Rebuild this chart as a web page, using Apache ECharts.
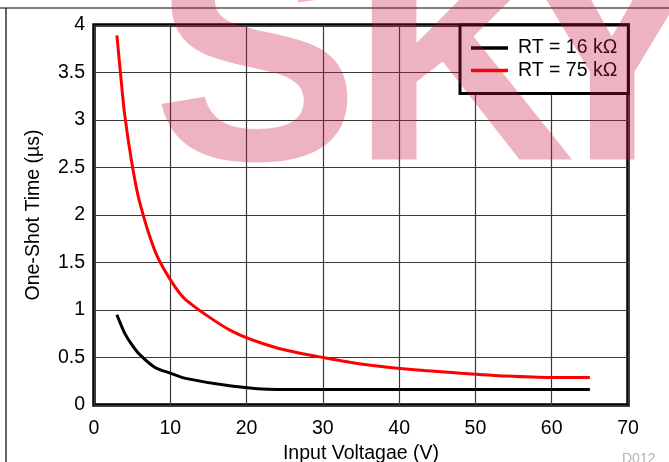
<!DOCTYPE html>
<html>
<head>
<meta charset="utf-8">
<script src="https://cdn.jsdelivr.net/npm/echarts@6/dist/echarts.min.js"></script>
<style>
html,body{margin:0;padding:0;background:#fff;}
#main{width:669px;height:462px;}
</style>
</head>
<body>
<div id="main"></div>
<script>
// Data
const xTicks = [0, 10, 20, 30, 40, 50, 60, 70];
const yTicks = [0, 0.5, 1, 1.5, 2, 2.5, 3, 3.5, 4];
const seriesNames = ['RT = 16 k\u03A9', 'RT = 75 k\u03A9'];
const vin16 = [3, 4, 5, 6, 8, 10, 12, 18, 24, 30, 36, 42, 48, 54, 60, 65];
const time16 = [0.95, 0.76, 0.63, 0.53, 0.395, 0.335, 0.28, 0.20, 0.163, 0.163, 0.163, 0.163, 0.163, 0.163, 0.163, 0.163];
const vin75 = [3, 3.5, 4, 5, 6, 8, 10, 12, 18, 24, 30, 36, 42, 48, 54, 60, 65];
const time75 = [3.89, 3.47, 3.07, 2.53, 2.13, 1.62, 1.32, 1.11, 0.78, 0.60, 0.50, 0.42, 0.37, 0.335, 0.305, 0.29, 0.29];
const watermark = ['S', 'K', 'Y'];

const FONT = '"Liberation Sans", Arial, sans-serif';
const chart = echarts.init(document.getElementById('main'), null, {renderer: 'canvas'});

const zip = (xs, ys) => xs.map((x, i) => [x, ys[i]]);

const wmX = [256, 463, 612];
const graphics = [
  {type: 'line', shape: {x1: 0, y1: 8, x2: 669, y2: 8}, style: {stroke: '#000', lineWidth: 1.2}, z: 1, silent: true},
  {type: 'line', shape: {x1: 6, y1: 8, x2: 6, y2: 462}, style: {stroke: '#000', lineWidth: 1.2}, z: 1, silent: true},
  {type: 'text', left: 622, top: 452, style: {text: 'D012', fill: '#b4b4b4', font: '14px ' + FONT}, silent: true}
];
watermark.forEach((ch, i) => {
  graphics.push({
    type: 'text', x: wmX[i], y: 74, z: 100, silent: true,
    style: {text: ch, fill: 'rgba(200,20,60,0.32)', font: 'bold 310px ' + FONT, align: 'center', verticalAlign: 'middle'}
  });
});

chart.setOption({
  animation: false,
  backgroundColor: '#fff',
  grid: {left: 94, top: 25, right: 41, bottom: 57, outerBoundsMode: 'none', containLabel: false,
         show: true, borderColor: '#000', borderWidth: 3.5, backgroundColor: 'transparent'},
  xAxis: {
    type: 'value', min: xTicks[0], max: xTicks[xTicks.length - 1], interval: 10,
    name: 'Input Voltagae (V)', nameLocation: 'middle', nameGap: 32,
    nameTextStyle: {fontSize: 19.5, color: '#000', fontFamily: FONT},
    axisLine: {show: false}, axisTick: {show: false},
    axisLabel: {fontSize: 19.5, color: '#000', fontFamily: FONT, margin: 14},
    splitLine: {show: true, lineStyle: {color: '#3a3a3a', width: 1.2}}
  },
  yAxis: {
    type: 'value', min: yTicks[0], max: yTicks[yTicks.length - 1], interval: 0.5,
    name: 'One-Shot Time (\u00B5s)', nameLocation: 'middle', nameGap: 50,
    nameTextStyle: {fontSize: 19.5, color: '#000', fontFamily: FONT},
    axisLine: {show: false}, axisTick: {show: false},
    axisLabel: {fontSize: 19.5, color: '#000', fontFamily: FONT, margin: 9},
    splitLine: {show: true, lineStyle: {color: '#3a3a3a', width: 1.2}}
  },
  legend: {
    orient: 'vertical', left: 460, top: 25,
    icon: 'rect', itemWidth: 37, itemHeight: 3.5, itemGap: 2.5,
    padding: [13, 11, 13, 11],
    borderColor: '#000', borderWidth: 3, backgroundColor: '#fff',
    textStyle: {fontSize: 19.5, color: '#000', fontFamily: FONT, lineHeight: 20, padding: [0, 0, 0, 5]},
    data: seriesNames
  },
  series: [
    {name: seriesNames[0], type: 'line', data: zip(vin16, time16), symbol: 'none', smooth: 0.25,
     lineStyle: {color: '#000', width: 3}, itemStyle: {color: '#000'}, z: 3},
    {name: seriesNames[1], type: 'line', data: zip(vin75, time75), symbol: 'none', smooth: 0.25,
     lineStyle: {color: '#ff0000', width: 3}, itemStyle: {color: '#ff0000'}, z: 3}
  ],
  graphic: graphics
});
</script>
</body>
</html>
